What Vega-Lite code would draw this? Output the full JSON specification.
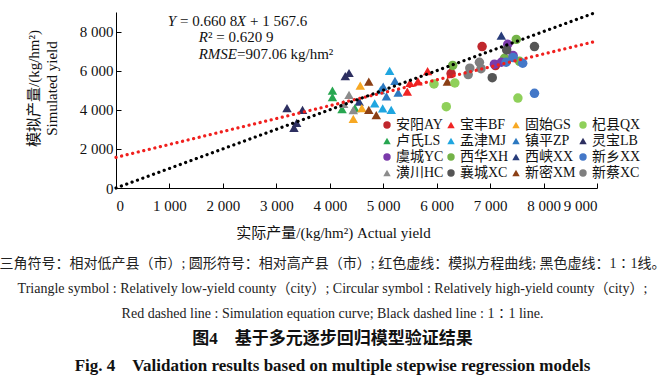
{
  "$schema": "https://vega.github.io/schema/vega-lite/v6.json",
  "width": 481,
  "height": 176,
  "autosize": "none",
  "padding": {"left": 116, "top": 12, "right": 68, "bottom": 197},
  "background": "white",
  "config": {
    "view": {"stroke": null},
    "font": "Liberation Serif, Noto Sans CJK SC",
    "axis": {"labelOverlap": false, "labelSeparation": -40, "labelBound": false},
    "axisY": {"tickCount": 9, "labelSeparation": -60},
    "text": {"fontSize": 15, "font": "Liberation Serif", "color": "#111", "baseline": "alphabetic"}
  },
  "title": {
    "text": [
      "三角符号：相对低产县（市）; 圆形符号：相对高产县（市）; 红色虚线：模拟方程曲线; 黑色虚线：1∶1线。",
      "Triangle symbol : Relatively low-yield county（city）;  Circular symbol : Relatively high-yield county（city）;",
      "Red dashed line : Simulation equation curve;  Black dashed line : 1∶1 line."
    ],
    "subtitle": [
      "图4　基于多元逐步回归模型验证结果",
      "Fig. 4　Validation results based on multiple stepwise regression models"
    ],
    "orient": "bottom",
    "anchor": "middle",
    "frame": "group",
    "dx": -24,
    "offset": 17,
    "fontSize": 14,
    "fontWeight": "normal",
    "lineHeight": 25,
    "color": "#222",
    "font": "Liberation Serif, Noto Sans CJK SC",
    "subtitleFont": "Liberation Serif, Noto Sans CJK SC",
    "subtitleFontSize": 17,
    "subtitleFontWeight": "bold",
    "subtitleLineHeight": 27,
    "subtitleColor": "#111",
    "subtitlePadding": 10
  },
  "datasets": {
    "pts": [
      {"county": "灵宝LB", "actual": 3200, "simulated": 4080},
      {"county": "灵宝LB", "actual": 3490, "simulated": 4000},
      {"county": "灵宝LB", "actual": 3380, "simulated": 3330},
      {"county": "灵宝LB", "actual": 3330, "simulated": 3080},
      {"county": "灵宝LB", "actual": 4290, "simulated": 5720},
      {"county": "灵宝LB", "actual": 4360, "simulated": 5880},
      {"county": "西峡XX", "actual": 7210, "simulated": 7790},
      {"county": "西峡XX", "actual": 4550, "simulated": 4420},
      {"county": "卢氏LS", "actual": 4050, "simulated": 4980},
      {"county": "卢氏LS", "actual": 4050, "simulated": 4650},
      {"county": "卢氏LS", "actual": 4230, "simulated": 4030},
      {"county": "卢氏LS", "actual": 4470, "simulated": 4080},
      {"county": "潢川HC", "actual": 4360, "simulated": 4760},
      {"county": "潢川HC", "actual": 4260, "simulated": 4300},
      {"county": "潢川HC", "actual": 4440, "simulated": 3980},
      {"county": "固始GS", "actual": 4570, "simulated": 5230},
      {"county": "固始GS", "actual": 4600, "simulated": 4080},
      {"county": "固始GS", "actual": 4440, "simulated": 3530},
      {"county": "新密XM", "actual": 4730, "simulated": 5440},
      {"county": "新密XM", "actual": 4730, "simulated": 3990},
      {"county": "新密XM", "actual": 4870, "simulated": 3730},
      {"county": "新密XM", "actual": 6200, "simulated": 5440},
      {"county": "孟津MJ", "actual": 5120, "simulated": 5990},
      {"county": "孟津MJ", "actual": 4840, "simulated": 4330},
      {"county": "孟津MJ", "actual": 4990, "simulated": 4070},
      {"county": "孟津MJ", "actual": 5150, "simulated": 3990},
      {"county": "孟津MJ", "actual": 4950, "simulated": 5000},
      {"county": "镇平ZP", "actual": 5000, "simulated": 5180},
      {"county": "镇平ZP", "actual": 5220, "simulated": 5480},
      {"county": "镇平ZP", "actual": 5280, "simulated": 4880},
      {"county": "镇平ZP", "actual": 5060, "simulated": 4680},
      {"county": "宝丰BF", "actual": 5450, "simulated": 4930},
      {"county": "宝丰BF", "actual": 5500, "simulated": 5370},
      {"county": "宝丰BF", "actual": 5650, "simulated": 5450},
      {"county": "宝丰BF", "actual": 5830, "simulated": 5980},
      {"county": "安阳AY", "actual": 6270, "simulated": 5850},
      {"county": "安阳AY", "actual": 6850, "simulated": 7230},
      {"county": "安阳AY", "actual": 7100, "simulated": 6260},
      {"county": "杞县QX", "actual": 5950, "simulated": 5320},
      {"county": "杞县QX", "actual": 6340, "simulated": 5370},
      {"county": "杞县QX", "actual": 6180, "simulated": 4160},
      {"county": "杞县QX", "actual": 7520, "simulated": 4600},
      {"county": "西华XH", "actual": 6300, "simulated": 6270},
      {"county": "西华XH", "actual": 7490, "simulated": 7600},
      {"county": "西华XH", "actual": 7270, "simulated": 6630},
      {"county": "西华XH", "actual": 7550, "simulated": 6480},
      {"county": "新蔡XC", "actual": 6590, "simulated": 5800},
      {"county": "新蔡XC", "actual": 6620, "simulated": 6130},
      {"county": "新蔡XC", "actual": 6800, "simulated": 6430},
      {"county": "新蔡XC", "actual": 6830, "simulated": 6100},
      {"county": "虞城YC", "actual": 7330, "simulated": 7350},
      {"county": "虞城YC", "actual": 7430, "simulated": 6770},
      {"county": "虞城YC", "actual": 7080, "simulated": 6330},
      {"county": "虞城YC", "actual": 7210, "simulated": 6430},
      {"county": "襄城XC", "actual": 7830, "simulated": 7230},
      {"county": "襄城XC", "actual": 7310, "simulated": 7060},
      {"county": "襄城XC", "actual": 7040, "simulated": 5640},
      {"county": "新乡XX", "actual": 7430, "simulated": 6670},
      {"county": "新乡XX", "actual": 7610, "simulated": 6380},
      {"county": "新乡XX", "actual": 7300, "simulated": 6430},
      {"county": "新乡XX", "actual": 7830, "simulated": 4840}
    ],
    "fit": [
      {"actual": 0, "simulated": 1567.6},
      {"actual": 9000, "simulated": 7514.8}
    ],
    "oneone": [
      {"actual": 0, "simulated": 0},
      {"actual": 9000, "simulated": 9000}
    ],
    "stats": [
      {"label": "fit"}
    ]
  },
  "layer": [
    {
      "data": {"name": "pts"},
      "mark": {"type": "point", "filled": true, "opacity": 1, "size": 90, "strokeWidth": 0},
      "encoding": {
        "x": {
          "field": "actual", "type": "quantitative",
          "scale": {"domain": [0, 9000], "nice": false},
          "axis": {
            "title": "实际产量/(kg/hm²) Actual yield",
            "values": [0, 1000, 2000, 3000, 4000, 5000, 6000, 7000, 8000, 9000],
            "labelExpr": "replace(format(datum.value, ','), ',', ' ')",
            "labelOverlap": false,
            "labelSeparation": -40,
            "grid": false,
            "domainColor": "#000",
            "tickColor": "#000",
            "tickSize": -5,
            "labelFontSize": 15,
            "labelColor": "#111",
            "labelPadding": 15,
            "labelFont": "Liberation Serif",
            "titleFontSize": 15,
            "titleFontWeight": "normal",
            "titleColor": "#111",
            "titleX": 217,
            "titleY": 44,
            "titleBaseline": "middle",
            "titleAlign": "center",
            "titleAnchor": null
          }
        },
        "y": {
          "field": "simulated", "type": "quantitative",
          "scale": {"domain": [0, 9000], "nice": false},
          "axis": {
            "title": ["模拟产量/(kg/hm²)", "Simulated yield"],
            "values": [0, 1000, 2000, 3000, 4000, 5000, 6000, 7000, 8000, 9000],
            "tickCount": 9,
            "labelExpr": "replace(format(datum.value, ','), ',', ' ')",
            "labelOverlap": false,
            "labelSeparation": -60,
            "grid": false,
            "domainColor": "#000",
            "tickColor": "#000",
            "tickSize": -5,
            "labelFontSize": 15,
            "labelColor": "#111",
            "labelPadding": 8,
            "labelFont": "Liberation Serif",
            "titleFontSize": 15,
            "titleFontWeight": "normal",
            "titleColor": "#111",
            "titleAngle": -90,
            "titleX": -83,
            "titleY": 76,
            "titleBaseline": "middle",
            "titleAlign": "center",
            "titleLineHeight": 18,
            "titleAnchor": null
          }
        },
        "color": {
          "field": "county", "type": "nominal",
          "scale": {
            "domain": ["安阳AY", "宝丰BF", "固始GS", "杞县QX", "卢氏LS", "孟津MJ", "镇平ZP", "灵宝LB", "虞城YC", "西华XH", "西峡XX", "新乡XX", "潢川HC", "襄城XC", "新密XM", "新蔡XC"],
            "range": ["#C0272D", "#F02424", "#F7A823", "#8FD05A", "#27A650", "#1FA6E0", "#2C78C0", "#2D2F60", "#7A3AAA", "#74B348", "#283C7A", "#4478C8", "#8C8C8C", "#555555", "#8B3F15", "#7F7F7F"]
          },
          "legend": {
            "orient": "none",
            "legendX": 264,
            "legendY": 106,
            "columns": 4,
            "direction": "horizontal",
            "title": null,
            "padding": 0,
            "labelFontSize": 14,
            "labelFont": "Liberation Serif, Noto Sans CJK SC",
            "labelColor": "#111",
            "labelOffset": 2,
            "symbolSize": 55,
            "symbolStrokeWidth": 0,
            "columnPadding": 0,
            "rowPadding": 2,
            "labelLimit": 0
          }
        },
        "shape": {
          "field": "county", "type": "nominal",
          "scale": {
            "domain": ["安阳AY", "宝丰BF", "固始GS", "杞县QX", "卢氏LS", "孟津MJ", "镇平ZP", "灵宝LB", "虞城YC", "西华XH", "西峡XX", "新乡XX", "潢川HC", "襄城XC", "新密XM", "新蔡XC"],
            "range": ["circle", "triangle-up", "triangle-up", "circle", "triangle-up", "triangle-up", "triangle-up", "triangle-up", "circle", "circle", "triangle-up", "circle", "triangle-up", "circle", "triangle-up", "circle"]
          }
        }
      }
    },
    {
      "data": {"name": "fit"},
      "mark": {"type": "line", "color": "#F0201E", "strokeWidth": 3.2, "strokeDash": [0.1, 5.6], "strokeCap": "round"},
      "encoding": {
        "x": {"field": "actual", "type": "quantitative"},
        "y": {"field": "simulated", "type": "quantitative"}
      }
    },
    {
      "data": {"name": "oneone"},
      "mark": {"type": "line", "color": "#000", "strokeWidth": 3.2, "strokeDash": [0.1, 5.6], "strokeCap": "round"},
      "encoding": {
        "x": {"field": "actual", "type": "quantitative"},
        "y": {"field": "simulated", "type": "quantitative"}
      }
    },
    {
      "data": {"name": "stats"},
      "mark": {"type": "text", "align": "right", "fontStyle": "italic"},
      "encoding": {
        "x": {"datum": 1123, "type": "quantitative"},
        "y": {"datum": 8300, "type": "quantitative"},
        "text": {"value": "Y"}
      }
    },
    {
      "data": {"name": "stats"},
      "mark": {"type": "text", "align": "left", "dx": 4},
      "encoding": {
        "x": {"datum": 1123, "type": "quantitative"},
        "y": {"datum": 8300, "type": "quantitative"},
        "text": {"value": "= 0.660 8"}
      }
    },
    {
      "data": {"name": "stats"},
      "mark": {"type": "text", "align": "right", "fontStyle": "italic"},
      "encoding": {
        "x": {"datum": 2432, "type": "quantitative"},
        "y": {"datum": 8300, "type": "quantitative"},
        "text": {"value": "X"}
      }
    },
    {
      "data": {"name": "stats"},
      "mark": {"type": "text", "align": "left", "dx": 4},
      "encoding": {
        "x": {"datum": 2432, "type": "quantitative"},
        "y": {"datum": 8300, "type": "quantitative"},
        "text": {"value": "+ 1 567.6"}
      }
    },
    {
      "data": {"name": "stats"},
      "mark": {"type": "text", "align": "right", "fontStyle": "italic"},
      "encoding": {
        "x": {"datum": 1721, "type": "quantitative"},
        "y": {"datum": 7456, "type": "quantitative"},
        "text": {"value": "R"}
      }
    },
    {
      "data": {"name": "stats"},
      "mark": {"type": "text", "align": "left"},
      "encoding": {
        "x": {"datum": 1721, "type": "quantitative"},
        "y": {"datum": 7456, "type": "quantitative"},
        "text": {"value": "² = 0.620 9"}
      }
    },
    {
      "data": {"name": "stats"},
      "mark": {"type": "text", "align": "right", "fontStyle": "italic"},
      "encoding": {
        "x": {"datum": 2264, "type": "quantitative"},
        "y": {"datum": 6612, "type": "quantitative"},
        "text": {"value": "RMSE"}
      }
    },
    {
      "data": {"name": "stats"},
      "mark": {"type": "text", "align": "left"},
      "encoding": {
        "x": {"datum": 2264, "type": "quantitative"},
        "y": {"datum": 6612, "type": "quantitative"},
        "text": {"value": "=907.06 kg/hm²"}
      }
    }
  ]
}
